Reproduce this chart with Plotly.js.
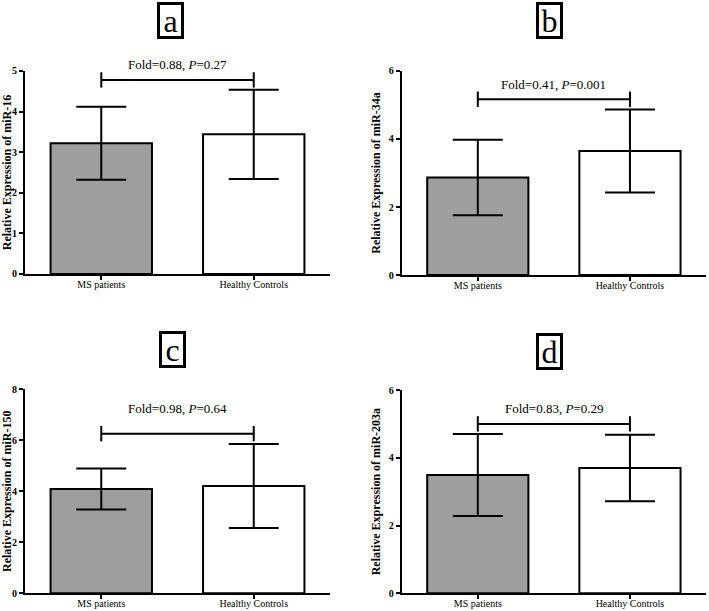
<!DOCTYPE html>
<html>
<head>
<meta charset="utf-8">
<script src="https://cdn.plot.ly/plotly-3.0.1.min.js"></script>
<style>html,body{margin:0;padding:0;background:#fff;}#chart{width:709px;height:611px;}</style>
</head>
<body>
<div id="chart"></div>
<script>
const categories = ['MS patients', 'Healthy Controls'];
const panelLetters = ['a', 'b', 'c', 'd'];
const miRNAs = ['miR-16', 'miR-34a', 'miR-150', 'miR-203a'];
const msMean = [3.22, 2.87, 4.09, 3.49];
const msErr = [0.90, 1.11, 0.80, 1.21];
const hcMean = [3.44, 3.65, 4.21, 3.70];
const hcErr = [1.10, 1.22, 1.65, 0.98];
const yMax = [5, 6, 8, 6];
const yDtick = [1, 2, 2, 2];
const bracketY = [4.78, 5.17, 6.26, 5.00];
const labelY = [5.17, 5.59, 7.25, 5.46];
const folds = ['0.88', '0.41', '0.98', '0.83'];
const pvals = ['0.27', '0.001', '0.64', '0.29'];

const FONT = '"Liberation Serif", "Times New Roman", Times, serif';
const xDomains = [[0.0353, 0.4654], [0.5666, 0.9958], [0.0353, 0.4654], [0.5666, 0.9958]];
const yDomains = [[0.5516, 0.8838], [0.5499, 0.8838], [0.029, 0.3628], [0.029, 0.3617]];
const boxPos = [[0.2398, 0.967], [0.7753, 0.967], [0.2426, 0.4277], [0.7750, 0.4250]];

const traces = [];
const layout = {
  width: 709, height: 611,
  margin: {l: 0, r: 0, t: 0, b: 0},
  paper_bgcolor: '#fff', plot_bgcolor: '#fff',
  showlegend: false,
  font: {family: FONT, color: '#000'},
  annotations: []
};

for (let i = 0; i < 4; i++) {
  const sfx = i === 0 ? '' : String(i + 1);
  const xa = 'x' + sfx, ya = 'y' + sfx;
  traces.push({
    type: 'bar', x: categories, y: [msMean[i], hcMean[i]],
    xaxis: xa, yaxis: ya, width: 0.665,
    marker: {color: ['#9e9e9e', '#ffffff'], line: {color: '#000', width: 2}},
    error_y: {type: 'data', array: [msErr[i], hcErr[i]], visible: true, color: '#000', thickness: 2, width: 25},
    hoverinfo: 'none'
  });
  traces.push({
    type: 'scatter', mode: 'lines+markers', x: categories, y: [bracketY[i], bracketY[i]],
    xaxis: xa, yaxis: ya, cliponaxis: false,
    line: {color: '#000', width: 2},
    marker: {symbol: 'line-ns-open', size: 11, color: '#000', line: {color: '#000', width: 2}},
    hoverinfo: 'none'
  });
  layout['xaxis' + sfx] = {
    domain: xDomains[i], anchor: ya, type: 'category', range: [-0.5, 1.5],
    showline: true, linecolor: '#000', linewidth: 2, ticks: 'outside', ticklen: 4, tickwidth: 2,
    tickcolor: '#000', showgrid: false, zeroline: false, fixedrange: true, ticklabelstandoff: -4,
    tickfont: {family: FONT, size: 10, color: '#000'}
  };
  layout['yaxis' + sfx] = {
    domain: yDomains[i], anchor: xa, range: [0, yMax[i]], dtick: yDtick[i], tick0: 0,
    showline: true, linecolor: '#000', linewidth: 2, ticks: 'outside', ticklen: 4, tickwidth: 2,
    tickcolor: '#000', showgrid: false, zeroline: false, fixedrange: true,
    tickfont: {family: FONT, size: 10, color: '#000', weight: 'bold'},
    title: {text: 'Relative Expression of ' + miRNAs[i], font: {family: FONT, size: 12, color: '#000', weight: 'bold'}, standoff: 6}
  };
  layout.annotations.push({
    xref: xa, yref: ya + ' domain', x: 0.5, y: labelY[i] / yMax[i], showarrow: false,
    xanchor: 'center', yanchor: 'middle',
    text: 'Fold=' + folds[i] + ', <i>P</i>=' + pvals[i],
    font: {family: FONT, size: 13, color: '#000'}
  });
  layout.annotations.push({
    xref: 'paper', yref: 'paper', x: boxPos[i][0], y: boxPos[i][1], showarrow: false,
    xanchor: 'center', yanchor: 'middle',
    text: panelLetters[i], font: {family: FONT, size: 32, color: '#000'},
    width: 21, height: 31, borderpad: 0, bordercolor: '#000', borderwidth: 3, bgcolor: '#fff'
  });
}

Plotly.newPlot('chart', traces, layout, {displayModeBar: false, staticPlot: true});
</script>
</body>
</html>
